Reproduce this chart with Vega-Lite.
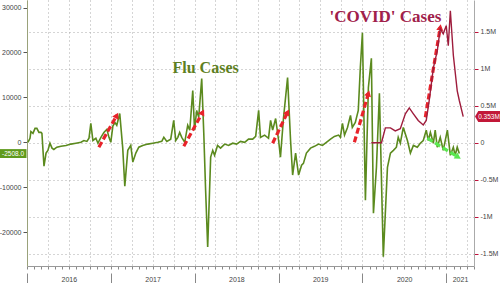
{
  "$schema": "https://vega.github.io/schema/vega-lite/v6.json",
  "width": 447,
  "height": 266,
  "autosize": {"type": "none"},
  "padding": {"left": 27, "top": 0, "right": 26, "bottom": 17},
  "background": "white",
  "config": {
    "view": {"stroke": null},
    "axis": {"labelFont": "Liberation Sans", "labelFontSize": 7, "labelColor": "#444", "title": null}
  },
  "datasets": {
    "flu": [
      {"date":"2016-01-05","value":0},{"date":"2016-01-14","value":900},{"date":"2016-01-18","value":2400},{"date":"2016-01-27","value":2000},
      {"date":"2016-02-05","value":3100},{"date":"2016-02-13","value":3100},{"date":"2016-02-22","value":2200},{"date":"2016-03-02","value":2200},
      {"date":"2016-03-06","value":2000},{"date":"2016-03-15","value":-5300},{"date":"2016-03-24","value":-2400},{"date":"2016-04-01","value":-1800},
      {"date":"2016-04-10","value":-200},{"date":"2016-04-19","value":-1300},{"date":"2016-04-27","value":-1600},{"date":"2016-05-10","value":-1100},
      {"date":"2016-05-28","value":-900},{"date":"2016-06-19","value":-700},{"date":"2016-07-10","value":-400},{"date":"2016-08-01","value":-200},
      {"date":"2016-08-23","value":0},{"date":"2016-09-05","value":400},{"date":"2016-09-18","value":200},{"date":"2016-09-27","value":900},
      {"date":"2016-10-05","value":4200},{"date":"2016-10-14","value":400},{"date":"2016-10-27","value":900},{"date":"2016-11-05","value":-200},
      {"date":"2016-11-18","value":1100},{"date":"2016-12-01","value":2200},{"date":"2016-12-14","value":2900},{"date":"2016-12-23","value":1100},
      {"date":"2016-12-31","value":0},{"date":"2017-01-09","value":3600},{"date":"2017-01-18","value":4400},{"date":"2017-01-26","value":3800},
      {"date":"2017-02-08","value":6400},{"date":"2017-02-21","value":-1300},{"date":"2017-03-02","value":-9800},{"date":"2017-03-15","value":-1800},
      {"date":"2017-03-28","value":-700},{"date":"2017-04-06","value":-4400},{"date":"2017-04-19","value":-2400},{"date":"2017-05-02","value":-1100},
      {"date":"2017-05-19","value":-700},{"date":"2017-06-10","value":-400},{"date":"2017-07-02","value":-200},{"date":"2017-07-24","value":0},
      {"date":"2017-08-10","value":200},{"date":"2017-08-19","value":1100},{"date":"2017-09-01","value":200},{"date":"2017-09-18","value":700},
      {"date":"2017-10-01","value":4900},{"date":"2017-10-10","value":400},{"date":"2017-10-19","value":1100},{"date":"2017-10-27","value":2200},
      {"date":"2017-11-05","value":1100},{"date":"2017-11-18","value":0},{"date":"2017-12-01","value":3800},{"date":"2017-12-10","value":2700},
      {"date":"2017-12-23","value":11500},{"date":"2017-12-31","value":2700},{"date":"2018-01-09","value":7100},{"date":"2018-01-18","value":5600},
      {"date":"2018-01-31","value":14200},{"date":"2018-02-09","value":2000},{"date":"2018-02-17","value":-10700},{"date":"2018-02-26","value":-23300},
      {"date":"2018-03-11","value":-3300},{"date":"2018-03-20","value":-1800},{"date":"2018-03-28","value":-2900},{"date":"2018-04-10","value":-700},
      {"date":"2018-04-23","value":-1300},{"date":"2018-05-11","value":-400},{"date":"2018-05-28","value":-700},{"date":"2018-06-15","value":-200},
      {"date":"2018-07-02","value":-400},{"date":"2018-07-19","value":200},{"date":"2018-08-06","value":0},{"date":"2018-08-23","value":700},
      {"date":"2018-09-10","value":700},{"date":"2018-09-23","value":1300},{"date":"2018-10-06","value":7100},{"date":"2018-10-14","value":1100},
      {"date":"2018-11-01","value":1600},{"date":"2018-11-18","value":900},{"date":"2018-11-27","value":4900},{"date":"2018-12-06","value":2700},
      {"date":"2018-12-19","value":5300},{"date":"2019-01-01","value":400},{"date":"2019-01-09","value":-3300},{"date":"2019-01-22","value":5300},
      {"date":"2019-02-09","value":14400},{"date":"2019-02-22","value":400},{"date":"2019-03-03","value":-7300},{"date":"2019-03-16","value":-2400},
      {"date":"2019-03-29","value":-7300},{"date":"2019-04-11","value":-5100},{"date":"2019-04-19","value":-4700},{"date":"2019-05-02","value":-2400},
      {"date":"2019-05-20","value":-1300},{"date":"2019-06-06","value":-900},{"date":"2019-06-24","value":-400},{"date":"2019-07-11","value":-700},
      {"date":"2019-07-28","value":0},{"date":"2019-08-15","value":700},{"date":"2019-09-01","value":1300},{"date":"2019-09-19","value":1600},
      {"date":"2019-09-27","value":1100},{"date":"2019-10-06","value":4200},{"date":"2019-10-15","value":1600},{"date":"2019-10-28","value":3300},
      {"date":"2019-11-10","value":6000},{"date":"2019-11-18","value":3300},{"date":"2019-12-01","value":4400},{"date":"2019-12-14","value":7100},
      {"date":"2019-12-23","value":16700},{"date":"2020-01-01","value":24400},{"date":"2020-01-14","value":-12900},{"date":"2020-01-27","value":12200},
      {"date":"2020-02-09","value":18700},{"date":"2020-02-18","value":-15800},{"date":"2020-03-02","value":-5600},{"date":"2020-03-15","value":10900},
      {"date":"2020-04-01","value":-25500},{"date":"2020-04-19","value":-5600},{"date":"2020-05-02","value":-2400},{"date":"2020-05-15","value":-1800},
      {"date":"2020-05-28","value":-1100},{"date":"2020-06-05","value":1100},{"date":"2020-06-14","value":-200},{"date":"2020-06-27","value":3300},
      {"date":"2020-07-15","value":400},{"date":"2020-07-28","value":-2400},{"date":"2020-08-10","value":-700},{"date":"2020-08-27","value":-1100},
      {"date":"2020-09-09","value":-200},{"date":"2020-09-22","value":400},{"date":"2020-10-05","value":2700},{"date":"2020-10-14","value":400},
      {"date":"2020-10-23","value":2200},{"date":"2020-11-05","value":-200},{"date":"2020-11-13","value":2700},{"date":"2020-11-22","value":-1100},
      {"date":"2020-12-05","value":1100},{"date":"2020-12-18","value":-1800},{"date":"2021-01-05","value":2700},{"date":"2021-01-18","value":-2900},
      {"date":"2021-01-31","value":-1100},{"date":"2021-02-08","value":-2900},{"date":"2021-02-17","value":-1100},{"date":"2021-02-26","value":-2508}
    ],
    "covid": [
      {"date":"2020-02-09","value":0},{"date":"2020-03-24","value":0},{"date":"2020-04-10","value":200000},{"date":"2020-05-02","value":200000},
      {"date":"2020-05-23","value":160000},{"date":"2020-06-14","value":190000},{"date":"2020-07-06","value":390000},{"date":"2020-07-23","value":470000},
      {"date":"2020-08-10","value":390000},{"date":"2020-08-31","value":300000},{"date":"2020-09-22","value":240000},{"date":"2020-10-05","value":300000},
      {"date":"2020-10-18","value":570000},{"date":"2020-11-05","value":1010000},{"date":"2020-11-22","value":1240000},{"date":"2020-12-05","value":1540000},
      {"date":"2020-12-18","value":1470000},{"date":"2020-12-31","value":1580000},{"date":"2021-01-09","value":1310000},{"date":"2021-01-18","value":1780000},
      {"date":"2021-01-31","value":1180000},{"date":"2021-02-17","value":700000},{"date":"2021-02-26","value":570000},{"date":"2021-03-15","value":353000}
    ],
    "arrows": [
      {"arrow":"a1","kind":"red","part":"tail","date":"2016-11-09","value":-1100},{"arrow":"a1","kind":"red","part":"head","date":"2017-01-26","value":6000},
      {"arrow":"a2","kind":"red","part":"tail","date":"2017-11-14","value":-900},{"arrow":"a2","kind":"red","part":"head","date":"2018-02-04","value":6700},
      {"arrow":"a3","kind":"red","part":"tail","date":"2018-12-06","value":-200},{"arrow":"a3","kind":"red","part":"head","date":"2019-02-09","value":6700},
      {"arrow":"a4","kind":"red","part":"tail","date":"2019-11-27","value":0},{"arrow":"a4","kind":"red","part":"head","date":"2020-01-27","value":10900},
      {"arrow":"a5","kind":"red","part":"tail","date":"2020-10-01","value":5600},{"arrow":"a5","kind":"red","part":"head","date":"2020-12-05","value":25600},
      {"arrow":"g1","kind":"green","part":"tail","date":"2020-10-10","value":900},{"arrow":"g1","kind":"green","part":"head","date":"2021-02-21","value":-3300}
    ],
    "labels": [
      {"series":"flu","date":"2016-01-01","value":-2508,"label":"-2508.0"},
      {"series":"covid","date":"2021-05-01","value":353000,"label":"0.353M"}
    ],
    "titles": [
      {"series":"flu","date":"2018-02-17","value":16550,"text":"Flu Cases"},
      {"series":"covid","date":"2020-04-10","value":1696000,"text":"'COVID' Cases"}
    ]
  },
  "encoding": {
    "x": {
      "field": "date", "type": "temporal",
      "scale": {"domain": ["2016-01-01", "2021-05-01"]},
      "axis": {
        "title": null,
        "tickCount": {"interval": "month", "step": 1},
        "labelExpr": "(month(datum.value)==6 || (year(datum.value)==2021 && month(datum.value)==2)) ? timeFormat(datum.value, '%Y') : ''",
        "labelOverlap": false,
        "labelFontSize": 7,
        "labelColor": "#444",
        "labelPadding": 6,
        "labelBound": false,
        "labelFlush": false,
        "grid": true,
        "gridDash": [1, 3],
        "gridColor": "#aaa",
        "gridOpacity": {"condition": {"test": "month(datum.value) % 3 == 0", "value": 1}, "value": 0},
        "tickSize": {"condition": {"test": "month(datum.value) == 0", "value": 17}, "value": 3},
        "tickDash": {"condition": {"test": "month(datum.value) == 0", "value": [3, 4, 10]}, "value": [3, 0]},
        "tickColor": "#888",
        "domainColor": "#999"
      }
    }
  },
  "layer": [
    {
      "encoding": {
        "y": {
          "field": "value", "type": "quantitative",
          "scale": {"domain": [-27550, 31690], "nice": false, "zero": false},
          "axis": {
            "orient": "left", "title": null,
            "values": [-20000, -10000, 0, 10000, 20000, 30000],
            "labelExpr": "'' + datum.value",
            "grid": false, "tickSize": 4, "tickColor": "#555",
            "domainColor": "#9aa27a", "labelPadding": 2, "labelFontSize": 7
          }
        }
      },
      "layer": [
        {"data": {"name": "flu"}, "mark": {"type": "line", "color": "#5b8a1e", "strokeWidth": 1.6}},
        {"data": {"name": "arrows"}, "transform": [{"filter": "datum.kind == 'red'"}],
         "mark": {"type": "line", "color": "#e8232b", "strokeWidth": 3.2, "strokeDash": [6, 3]},
         "encoding": {"detail": {"field": "arrow"}}},
        {"data": {"name": "arrows"}, "transform": [{"filter": "datum.kind == 'green'"}],
         "mark": {"type": "line", "color": "#5ae850", "strokeWidth": 3.2, "strokeDash": [6, 3]},
         "encoding": {"detail": {"field": "arrow"}}},
        {"data": {"name": "arrows"}, "transform": [{"filter": "datum.part == 'head' && (datum.arrow == 'a1' || datum.arrow == 'a2' || datum.arrow == 'a3')"}],
         "mark": {"type": "point", "shape": "triangle-up", "filled": true, "size": 50, "angle": 28, "color": "#e8232b", "opacity": 1}},
        {"data": {"name": "arrows"}, "transform": [{"filter": "datum.part == 'head' && datum.arrow == 'a4'"}],
         "mark": {"type": "point", "shape": "triangle-up", "filled": true, "size": 50, "angle": 16, "color": "#e8232b", "opacity": 1}},
        {"data": {"name": "arrows"}, "transform": [{"filter": "datum.part == 'head' && datum.arrow == 'a5'"}],
         "mark": {"type": "point", "shape": "triangle-up", "filled": true, "size": 50, "angle": 9, "color": "#e8232b", "opacity": 1}},
        {"data": {"name": "arrows"}, "transform": [{"filter": "datum.part == 'head' && datum.arrow == 'g1'"}],
         "mark": {"type": "point", "shape": "triangle-up", "filled": true, "size": 50, "angle": 121, "color": "#5ae850", "opacity": 1}},
        {"data": {"name": "titles"}, "transform": [{"filter": "datum.series == 'flu'"}],
         "mark": {"type": "text", "font": "Liberation Serif", "fontWeight": "bold", "fontSize": 16, "color": "#5e7f22"},
         "encoding": {"text": {"field": "text"}}},
        {"data": {"name": "labels"}, "transform": [{"filter": "datum.series == 'flu'"}],
         "mark": {"type": "point", "shape": "M-1,-0.33 L1,-0.33 L1,0.33 L-1,0.33 Z", "filled": true, "size": 729, "color": "#5f9a1c", "opacity": 1, "xOffset": -14}},
        {"data": {"name": "labels"}, "transform": [{"filter": "datum.series == 'flu'"}],
         "mark": {"type": "text", "font": "Liberation Sans", "fontSize": 6.5, "color": "white", "xOffset": -14},
         "encoding": {"text": {"field": "label"}}}
      ]
    },
    {
      "encoding": {
        "y": {
          "field": "value", "type": "quantitative",
          "scale": {"domain": [-1664000, 1926000], "nice": false, "zero": false},
          "axis": {
            "orient": "right", "title": null,
            "values": [-1500000, -1000000, -500000, 0, 500000, 1000000, 1500000],
            "labelExpr": "datum.value == 0 ? '0' : (datum.value / 1000000) + 'M'",
            "grid": true, "gridDash": [1, 3], "gridColor": "#aaa",
            "tickSize": 4, "tickColor": "#c0103a",
            "domainColor": "#aaa", "labelPadding": 2, "labelFontSize": 7
          }
        }
      },
      "layer": [
        {"data": {"name": "covid"}, "mark": {"type": "line", "color": "#9e1c3c", "strokeWidth": 1.4}},
        {"data": {"name": "titles"}, "transform": [{"filter": "datum.series == 'covid'"}],
         "mark": {"type": "text", "font": "Liberation Serif", "fontWeight": "bold", "fontSize": 17, "color": "#a0204a"},
         "encoding": {"text": {"field": "text"}}},
        {"data": {"name": "labels"}, "transform": [{"filter": "datum.series == 'covid'"}],
         "mark": {"type": "point", "shape": "M-1,0 L-0.75,-0.42 L1,-0.42 L1,0.42 L-0.75,0.42 Z", "filled": true, "size": 676, "color": "#c21838", "opacity": 1, "xOffset": 14}},
        {"data": {"name": "labels"}, "transform": [{"filter": "datum.series == 'covid'"}],
         "mark": {"type": "text", "font": "Liberation Sans", "fontSize": 6.5, "color": "white", "xOffset": 15},
         "encoding": {"text": {"field": "label"}}}
      ]
    }
  ],
  "resolve": {"scale": {"y": "independent"}}
}
